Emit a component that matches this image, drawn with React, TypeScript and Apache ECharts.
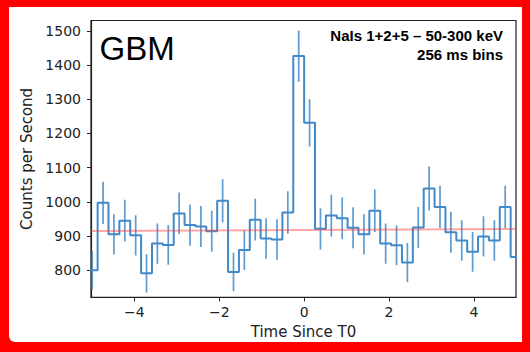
import React, { useEffect, useRef } from 'react';
import * as echarts from 'echarts';

// 256 ms bins, first bin edge at -5.12 s
const BIN_WIDTH = 0.256;
const FIRST_EDGE = -5.12;
const counts = [800, 997, 905, 945, 902, 791, 878, 874, 966, 932, 928, 914, 1003, 795, 859, 948, 893, 890, 969, 1426,
  1231, 921, 960, 952, 924, 905, 974, 878, 873, 823, 925, 1039, 985, 911, 887, 854, 899, 887, 985, 839];
const errors = [56, 62, 59, 61, 59, 56, 59, 58, 61, 60, 60, 60, 63, 56, 58, 61, 59, 59, 62, 75,
  69, 60, 61, 61, 60, 59, 62, 59, 58, 57, 60, 64, 62, 60, 59, 58, 59, 59, 62, 57];
const bgTimes = [-5.02, 4.99];
const bgRates = [915, 921];
const xTicks = [-4, -2, 0, 2, 4];
const yTicks = [800, 900, 1000, 1100, 1200, 1300, 1400, 1500];

const BLUE = '#4189c8';
const AXIS = '#222';

export default function App() {
  const ref = useRef<HTMLDivElement>(null);
  useEffect(() => {
    document.body.style.margin = '0';
    const chart = echarts.init(ref.current!, null, { renderer: 'svg' });
    const stepData: number[][] = counts.map((v, i) => [FIRST_EDGE + i * BIN_WIDTH, v]);
    stepData.push([FIRST_EDGE + counts.length * BIN_WIDTH, counts[counts.length - 1]]);
    const errData = counts.map((v, i) => [FIRST_EDGE + (i + 0.5) * BIN_WIDTH, v - errors[i], v + errors[i]]);
    const option: any = {
      animation: false,
      backgroundColor: 'transparent',
      grid: { left: 91, right: 14, top: 20.5, bottom: 54.7, show: true, borderColor: AXIS, borderWidth: 1.2 },
      xAxis: {
        type: 'value', min: -5.02, max: 4.99,
        axisLine: { show: true, onZero: false, lineStyle: { color: AXIS, width: 1.2 } },
        axisTick: { show: true, customValues: xTicks, length: 4, lineStyle: { color: AXIS, width: 1 } },
        axisLabel: {
          customValues: xTicks, fontFamily: 'DejaVu Sans', fontSize: 14, color: '#222', margin: 8,
          formatter: (v: number) => (v < 0 ? '\u2212' + Math.abs(v) : String(v)),
        },
        splitLine: { show: false },
        name: 'Time Since T0', nameLocation: 'middle', nameGap: 27,
        nameTextStyle: { fontFamily: 'DejaVu Sans', fontSize: 15, color: '#222' },
      },
      yAxis: {
        type: 'value', min: 721, max: 1530,
        axisLine: { show: true, onZero: false, lineStyle: { color: AXIS, width: 1.2 } },
        axisTick: { show: true, customValues: yTicks, length: 4, lineStyle: { color: AXIS, width: 1 } },
        axisLabel: {
          customValues: yTicks, fontFamily: 'DejaVu Sans', fontSize: 14, color: '#222', margin: 10,
          formatter: (v: number) => String(v),
        },
        splitLine: { show: false },
        name: 'Counts per Second', nameLocation: 'middle', nameGap: 43,
        nameTextStyle: { fontFamily: 'DejaVu Sans', fontSize: 15, color: '#222' },
      },
      series: [
        {
          type: 'line', step: 'end', data: stepData, symbol: 'none', clip: true, z: 2,
          lineStyle: { color: BLUE, width: 2 },
        },
        {
          type: 'custom', data: errData, clip: true, z: 2,
          encode: { x: 0, y: [1, 2] },
          renderItem: (params: any, api: any) => {
            const x = api.value(0);
            const p1 = api.coord([x, api.value(1)]);
            const p2 = api.coord([x, api.value(2)]);
            return {
              type: 'line',
              shape: { x1: p1[0], y1: p1[1], x2: p2[0], y2: p2[1] },
              style: { stroke: BLUE, lineWidth: 1.7, opacity: 0.85 },
            };
          },
        },
        {
          type: 'line', data: bgTimes.map((t, i) => [t, bgRates[i]]), symbol: 'none', z: 3,
          lineStyle: { color: 'rgba(255,60,60,0.45)', width: 2 },
        },
      ],
      graphic: [
        {
          type: 'text', x: 99.5, y: 48, z: 10,
          style: { text: 'GBM', fontFamily: 'Liberation Sans', fontSize: 33, fill: '#000', align: 'left', verticalAlign: 'middle' },
        },
        {
          type: 'text', x: 503, y: 35.5, z: 10,
          style: { text: 'NaIs 1+2+5 \u2013 50-300 keV', fontFamily: 'Liberation Sans', fontWeight: 'bold', fontSize: 15, fill: '#000', align: 'right', verticalAlign: 'middle' },
        },
        {
          type: 'text', x: 503, y: 54, z: 10,
          style: { text: '256 ms bins', fontFamily: 'Liberation Sans', fontWeight: 'bold', fontSize: 15, fill: '#000', align: 'right', verticalAlign: 'middle' },
        },
      ],
    };
    chart.setOption(option);
    return () => chart.dispose();
  }, []);
  return (
    <div style={{ position: 'relative', width: 530, height: 352, background: '#ff0000', overflow: 'hidden' }}>
      <div style={{ position: 'absolute', left: 9, top: 7, width: 513, height: 335, background: '#fff', borderRadius: '0 0 0 6px' }} />
      <div ref={ref} style={{ position: 'absolute', left: 0, top: 0, width: 530, height: 352 }} />
    </div>
  );
}
